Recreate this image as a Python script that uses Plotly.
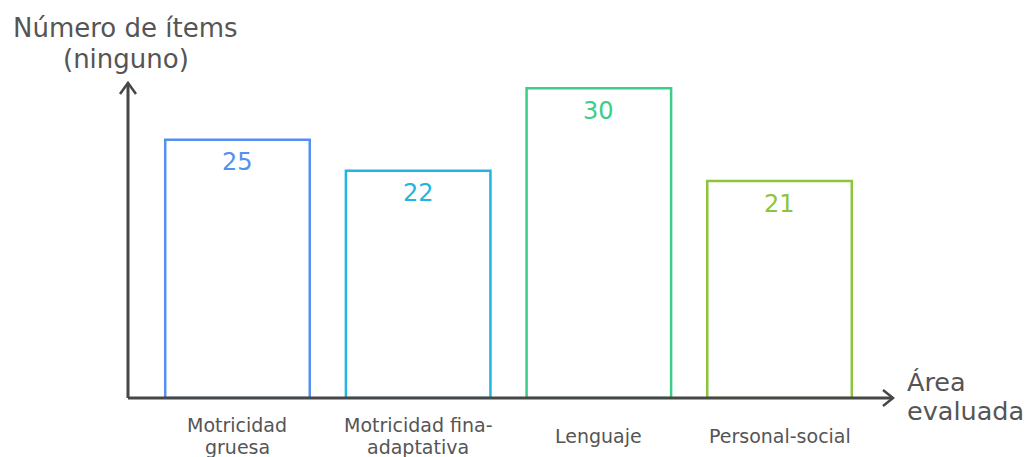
import plotly.graph_objects as go

categories = ["Motricidad gruesa", "Motricidad fina-adaptativa", "Lenguaje", "Personal-social"]
cat_labels = ["Motricidad<br>gruesa", "Motricidad fina-<br>adaptativa", "Lenguaje", "Personal-social"]
values = [25, 22, 30, 21]
colors = ["#5390F0", "#23B4E1", "#3CCD87", "#8CC43C"]

y_title = "Número de ítems<br>(ninguno)"
x_title = "Área<br>evaluada"

FONT = "DejaVu Sans"
GRAY = "#555555"
AXIS = "#474747"

# plot area in pixels: left 128, right 893, top 83, bottom 398
PLOT_TOP, PLOT_BOTTOM = 83, 398

fig = go.Figure()
fig.add_trace(go.Bar(
    x=categories, y=values,
    marker=dict(color="rgba(255,255,255,0)", line=dict(color=colors, width=2.5)),
    width=0.8, hoverinfo="skip",
))

annotations = []
for c, v, col, lab in zip(categories, values, colors, cat_labels):
    annotations.append(dict(x=c, y=v, xref="x", yref="y", text=str(v), showarrow=False,
                            yanchor="middle", yshift=-22.5,
                            font=dict(family=FONT, size=24, color=col)))
    lines = lab.split("<br>")
    n = len(lines)
    for i, ln in enumerate(lines):
        cy = 436 + (i - (n - 1) / 2) * 22
        annotations.append(dict(x=c, y=0, xref="x", yref="paper", text=ln, showarrow=False,
                                yanchor="middle", yshift=PLOT_BOTTOM - cy,
                                font=dict(family=FONT, size=19, color=GRAY)))

for i, ln in enumerate(y_title.split("<br>")):
    cy = [27.5, 59][i]
    annotations.append(dict(x=0, y=1, xref="paper", yref="paper", text=ln, showarrow=False,
                            xanchor="center", yanchor="middle", xshift=-2.5, yshift=PLOT_TOP - cy,
                            font=dict(family=FONT, size=26, color=GRAY)))

for i, ln in enumerate(x_title.split("<br>")):
    cy = [382, 411][i]
    annotations.append(dict(x=1, y=0, xref="paper", yref="paper", text=ln, showarrow=False,
                            xanchor="left", yanchor="middle", xshift=12, yshift=PLOT_BOTTOM - cy,
                            font=dict(family=FONT, size=25.5, color=GRAY)))

shapes = [
    dict(type="line", xref="paper", yref="paper", x0=0, y0=0, x1=0, y1=1,
         line=dict(color=AXIS, width=3)),
    dict(type="line", xref="paper", yref="paper", x0=0, y0=0, x1=1, y1=0,
         line=dict(color=AXIS, width=3)),
    dict(type="path", xref="paper", yref="paper", xsizemode="pixel", ysizemode="pixel",
         xanchor=0, yanchor=1, path="M-8,-11 L0,0 L8,-11", line=dict(color=AXIS, width=2.5)),
    dict(type="path", xref="paper", yref="paper", xsizemode="pixel", ysizemode="pixel",
         xanchor=1, yanchor=0, path="M-10,8 L0,0 L-10,-8", line=dict(color=AXIS, width=2.5)),
]

fig.update_layout(
    width=1032, height=457,
    margin=dict(l=128, r=139, t=PLOT_TOP, b=457 - PLOT_BOTTOM),
    paper_bgcolor="white", plot_bgcolor="white",
    showlegend=False,
    xaxis=dict(range=[-0.606, 3.628], showticklabels=False, showgrid=False, zeroline=False,
               showline=False, ticks=""),
    yaxis=dict(range=[0, 30.5], showticklabels=False, showgrid=False, zeroline=False,
               showline=False, ticks=""),
    annotations=annotations, shapes=shapes,
)

fig.write_html("out.html")
